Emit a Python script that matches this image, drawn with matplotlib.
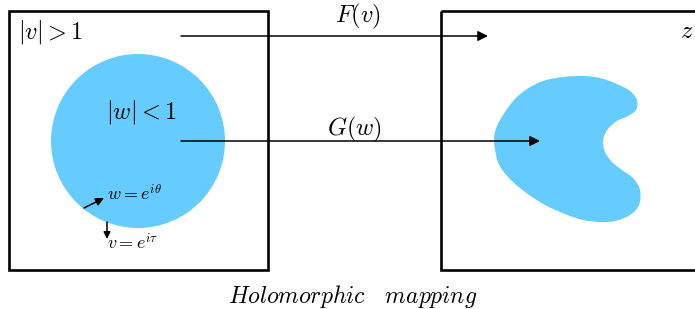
import matplotlib.pyplot as plt
from matplotlib.patches import Rectangle, Circle, PathPatch
from matplotlib.path import Path

plt.rcParams['mathtext.fontset'] = 'cm'

# geometry (pixel units, y grows downwards)
boxes = [(9, 11, 259, 259), (441, 11, 300, 259)]
disk_center = (138, 141)
disk_radius = 87
blob_x = [494, 497, 505, 515, 527, 543, 563, 583, 600, 617, 630, 637, 636, 628,
          617, 608, 603, 605, 612, 622, 633, 640, 639, 630, 615, 600, 583, 565,
          545, 525, 508, 498]
blob_y = [140, 126, 112, 99, 89, 81, 77, 76, 78, 84, 91, 100, 110, 116, 121,
          129, 140, 152, 162, 170, 178, 190, 205, 215, 221, 222, 220, 214, 205,
          192, 177, 162]

# arrows: (x0, y0, x1, y1)
arrows = [(181, 36, 488, 36), (181, 141, 540, 141), (84, 208, 104, 198), (107, 222, 107, 239)]
arrow_sizes = [15, 15, 12, 10]

# labels: (x, y, text, size, ha, va)
labels = [
    (18, 32, r'$|v|>1$', 17.5, 'left', 'center'),
    (141, 112, r'$|w|<1$', 17.5, 'center', 'center'),
    (358, 16, r'$F(v)$', 17.5, 'center', 'center'),
    (355, 129, r'$G(w)$', 17.5, 'center', 'center'),
    (687, 31, r'$z$', 17.5, 'center', 'center'),
    (107, 194, r'$w=e^{i\theta}$', 13, 'left', 'center'),
    (107, 243, r'$v=e^{i\tau}$', 13, 'left', 'center'),
    (353, 303, r'$Holomorphic\quad mapping$', 17, 'center', 'baseline'),
]

blue = '#66CCFF'


def smooth_closed(xs, ys):
    # closed Catmull-Rom outline turned into cubic bezier segments
    pts = list(zip(xs, ys))
    n = len(pts)
    verts = [pts[0]]
    codes = [Path.MOVETO]
    for i in range(n):
        p0, p1, p2, p3 = pts[i - 1], pts[i], pts[(i + 1) % n], pts[(i + 2) % n]
        c1 = (p1[0] + (p2[0] - p0[0]) / 6, p1[1] + (p2[1] - p0[1]) / 6)
        c2 = (p2[0] - (p3[0] - p1[0]) / 6, p2[1] - (p3[1] - p1[1]) / 6)
        verts += [c1, c2, p2]
        codes += [Path.CURVE4] * 3
    return Path(verts, codes)


fig = plt.figure(figsize=(6.95, 3.09), dpi=100)
ax = fig.add_axes([0, 0, 1, 1])
ax.set_xlim(0, 695)
ax.set_ylim(309, 0)
ax.axis('off')

ax.add_patch(Circle(disk_center, disk_radius, facecolor=blue, edgecolor='none'))
ax.add_patch(PathPatch(smooth_closed(blob_x, blob_y), facecolor=blue, edgecolor='none'))

for (x, y, w, h) in boxes:
    ax.add_patch(Rectangle((x, y), w, h, fill=False, edgecolor='black', lw=1.9))

for (x0, y0, x1, y1), ms in zip(arrows, arrow_sizes):
    ax.annotate('', xy=(x1, y1), xytext=(x0, y0),
                arrowprops=dict(arrowstyle='-|>', color='black', lw=1.1,
                                mutation_scale=ms, shrinkA=0, shrinkB=0))

for x, y, t, s, ha, va in labels:
    ax.text(x, y, t, fontsize=s, ha=ha, va=va)

fig.savefig('out.png', dpi=100)
